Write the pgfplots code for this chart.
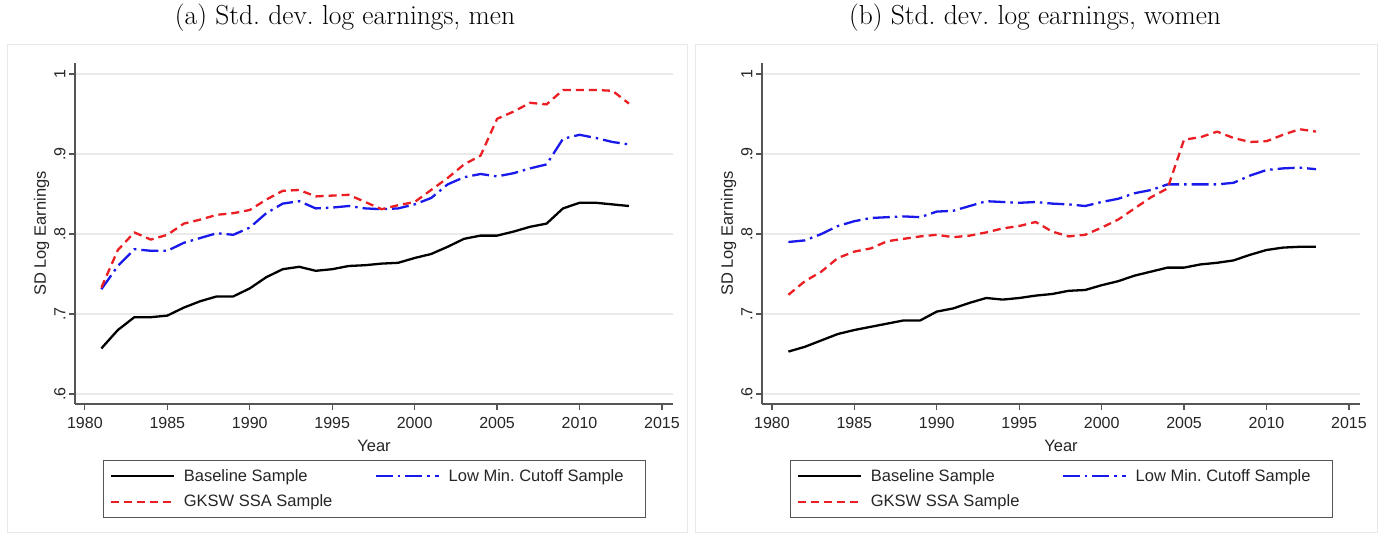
\documentclass[border=0pt]{standalone}
\usepackage{fontspec}
\usepackage{pgfplots}
\usepackage{pgfplotstable}
\pgfplotsset{compat=1.18}
\newfontfamily\arial{Liberation Sans}
\frenchspacing

\definecolor{axisgray}{RGB}{85,85,85}
\definecolor{gridgray}{RGB}{234,234,234}
\definecolor{framegray}{RGB}{232,232,232}
\definecolor{stred}{RGB}{235,30,35}
\definecolor{stblue}{RGB}{25,25,235}

% year, baseline, GKSW SSA, low minimum cutoff
\pgfplotstableread{
year base  gksw  lowmin
1981 0.657 0.733 0.731
1982 0.680 0.780 0.760
1983 0.696 0.802 0.781
1984 0.696 0.793 0.779
1985 0.698 0.799 0.779
1986 0.708 0.813 0.789
1987 0.716 0.818 0.795
1988 0.722 0.824 0.801
1989 0.722 0.826 0.799
1990 0.732 0.830 0.808
1991 0.746 0.843 0.826
1992 0.756 0.854 0.838
1993 0.759 0.855 0.841
1994 0.754 0.847 0.832
1995 0.756 0.848 0.833
1996 0.760 0.849 0.835
1997 0.761 0.840 0.832
1998 0.763 0.831 0.831
1999 0.764 0.836 0.832
2000 0.770 0.840 0.837
2001 0.775 0.855 0.845
2002 0.784 0.870 0.862
2003 0.794 0.887 0.871
2004 0.798 0.898 0.875
2005 0.798 0.944 0.872
2006 0.803 0.953 0.876
2007 0.809 0.964 0.882
2008 0.813 0.962 0.887
2009 0.832 0.980 0.919
2010 0.839 0.980 0.924
2011 0.839 0.980 0.920
2012 0.837 0.979 0.915
2013 0.835 0.963 0.912
}\men

\pgfplotstableread{
year base  gksw  lowmin
1981 0.653 0.724 0.790
1982 0.659 0.741 0.792
1983 0.667 0.753 0.800
1984 0.675 0.770 0.810
1985 0.680 0.778 0.816
1986 0.684 0.782 0.820
1987 0.688 0.791 0.821
1988 0.692 0.794 0.822
1989 0.692 0.797 0.821
1990 0.703 0.799 0.828
1991 0.707 0.796 0.829
1992 0.714 0.798 0.835
1993 0.720 0.802 0.841
1994 0.718 0.807 0.840
1995 0.720 0.810 0.839
1996 0.723 0.815 0.840
1997 0.725 0.803 0.838
1998 0.729 0.797 0.837
1999 0.730 0.799 0.835
2000 0.736 0.808 0.840
2001 0.741 0.818 0.844
2002 0.748 0.832 0.851
2003 0.753 0.846 0.855
2004 0.758 0.857 0.862
2005 0.758 0.918 0.862
2006 0.762 0.921 0.862
2007 0.764 0.928 0.862
2008 0.767 0.920 0.864
2009 0.774 0.915 0.873
2010 0.780 0.916 0.880
2011 0.783 0.924 0.882
2012 0.784 0.931 0.883
2013 0.784 0.928 0.881
}\women

\pgfplotsset{
  panel/.style={
    scale only axis, width=598pt, height=341pt,
    xmin=1979.4, xmax=2015.67, ymin=0.5875, ymax=1.01375,
    axis x line*=bottom, axis y line*=left,
    axis line style={axisgray, line width=1.4pt, -},
    xtick={1980,1985,...,2015},
    xticklabels={1980,1985,1990,1995,2000,2005,2010,2015},
    ytick={0.6,0.7,0.8,0.9,1.0},
    yticklabels={.6,.7,.8,.9,1},
    tick align=outside,
    major tick length=6pt,
    tick style={axisgray, line width=1.2pt},
    ymajorgrids,
    major grid style={gridgray, line width=1.6pt},
    every tick label/.append style={font=\arial\fontsize{16}{19}\selectfont, text=black!85},
    yticklabel style={rotate=90, anchor=south},
    xticklabel shift=4pt,
    xlabel={Year}, ylabel={SD Log Earnings},
    label style={font=\arial\fontsize{16.5}{19}\selectfont, text=black!85},
    xlabel style={yshift=-4pt},
    ylabel style={yshift=-2pt},
    legend columns=2,
    legend cell align=left,
    legend image code/.code={\draw[##1] (0pt,0pt) -- (63pt,0pt);},
    legend style={at={(0.0468,-0.164)}, anchor=north west,
      draw=axisgray, line width=1.2pt,
      font=\arial\fontsize{16.5}{19}\selectfont, text=black!85,
      inner xsep=6pt, inner ysep=7pt, row sep=8pt,
      /tikz/every odd column/.append style={column sep=7pt},
      /tikz/every even column/.append style={column sep=40pt}},
  },
  base/.style={black, line width=2.3pt, line join=round},
  low/.style={stblue, line width=2.3pt, line join=round,
    dash pattern=on 17pt off 5pt on 2.5pt off 5pt},
  gksw/.style={stred, line width=2.3pt, line join=round,
    dash pattern=on 8pt off 5pt},
}

\begin{document}
\begin{tikzpicture}
\useasboundingbox (0pt,0pt) rectangle (1383pt,-537pt);
\fill[white] (0pt,0pt) rectangle (1383pt,-537pt);

% panel frames
\draw[framegray, line width=1pt] (7pt,-45pt) rectangle (687pt,-532pt);
\draw[framegray, line width=1pt] (695pt,-45pt) rectangle (1377pt,-532pt);

% panel titles
\node[font=\fontsize{27.5}{30}\selectfont] at (345pt,-18pt) {(a) Std. dev. log earnings, men};
\node[font=\fontsize{27.5}{30}\selectfont] at (1035pt,-18pt) {(b) Std. dev. log earnings, women};

\begin{axis}[panel, at={(75pt,-404pt)}, anchor=south west]
  \addplot[base] table[x=year, y=base] {\men};
  \addlegendentry{Baseline Sample}
  \addplot[low] table[x=year, y=lowmin] {\men};
  \addlegendentry{Low Min. Cutoff Sample\rule{14pt}{0pt}}
  \addplot[gksw] table[x=year, y=gksw] {\men};
  \addlegendentry{GKSW SSA Sample}
\end{axis}

\begin{axis}[panel, at={(762pt,-404pt)}, anchor=south west]
  \addplot[base] table[x=year, y=base] {\women};
  \addlegendentry{Baseline Sample}
  \addplot[low] table[x=year, y=lowmin] {\women};
  \addlegendentry{Low Min. Cutoff Sample\rule{14pt}{0pt}}
  \addplot[gksw] table[x=year, y=gksw] {\women};
  \addlegendentry{GKSW SSA Sample}
\end{axis}
\end{tikzpicture}
\end{document}
